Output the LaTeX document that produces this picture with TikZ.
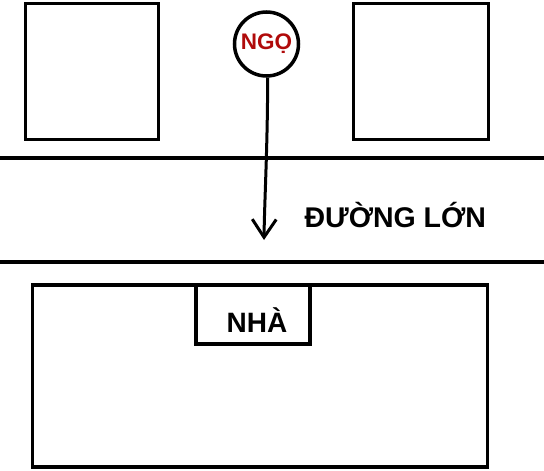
\documentclass[tikz,border=0pt]{standalone}
\usepackage{fontspec}
\setmainfont{Liberation Sans}
\usetikzlibrary{arrows.meta}
\definecolor{ngored}{HTML}{B00A0A}
\begin{document}
\begin{tikzpicture}[x=1pt,y=-1pt,
  thick line/.style={line width=3.5pt},
  box/.style={draw,line width=3.5pt,inner sep=0pt},
  lbl/.style={font=\bfseries\fontsize{28.5}{28.5}\selectfont}]
\useasboundingbox (0,0) rectangle (544,471);
% top squares
\draw[thick line] (25.5,3.5) rectangle (158.5,139.5);
\draw[thick line] (353.5,3.5) rectangle (488.5,139.5);
% road lines
\draw[thick line] (0,158) -- (544,158);
\draw[thick line] (0,262) -- (544,262);
% big house rect
\draw[thick line] (32.5,285) rectangle (487.5,467);
% NHÀ box
\node[box,minimum width=114pt,minimum height=59pt] (nha) at (253,314.5) {};
\node[font=\bfseries\fontsize{28}{28}\selectfont] (nhat) at (257,320) {NHÀ};
% road label
\node[lbl,anchor=west] (road) at (301,215) {ĐƯỜNG LỚN};
% NGỌ circle
\node[draw,circle,line width=3.5pt,minimum size=64pt,inner sep=0pt,
  text=ngored,font=\bfseries\fontsize{22.5}{22.5}\selectfont] (ngo) at (266.5,44) {NGỌ};
\coordinate (tip) at (264,240);
\draw[line width=3pt,-{Straight Barb[length=18pt,width=24pt,line width=3pt]}]
  (ngo.-88) .. controls (267.5,150) and (264.5,200) .. (tip);
\end{tikzpicture}
\end{document}
